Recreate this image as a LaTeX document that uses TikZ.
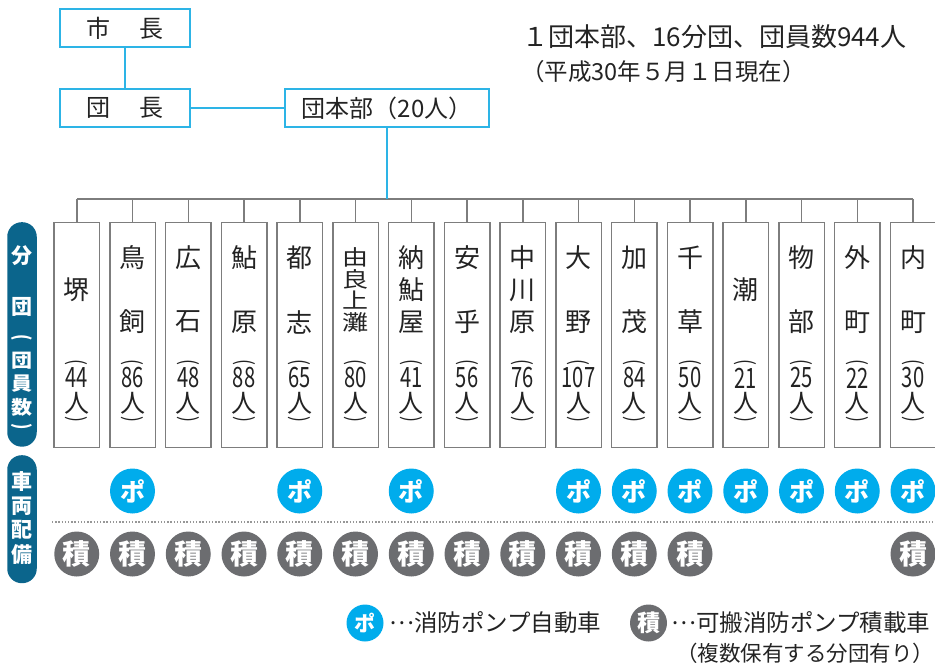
\documentclass[tikz,border=0pt]{standalone}
\usepackage{fontspec}
\setmainfont{Noto Sans CJK JP}
\usepackage{graphicx}
\definecolor{cyanline}{RGB}{45,180,230}
\definecolor{grayline}{RGB}{125,125,125}
\definecolor{pblue}{RGB}{0,172,236}
\definecolor{sgray}{RGB}{108,109,112}
\definecolor{pilld}{RGB}{11,101,140}
\definecolor{txt}{RGB}{35,35,35}
\newcommand\myfs[1]{\fontsize{#1}{#1}\selectfont}
\newcommand\midell{\raisebox{0.33em}{…}}
\begin{document}
\begin{tikzpicture}[x=1pt,y=-1pt,
  topbox/.style={draw=cyanline, line width=2pt, minimum width=130pt, minimum height=38pt, inner sep=0pt, font=\myfs{24}, text=txt},
  branch/.style={draw=grayline, line width=1.5pt, minimum width=45.5pt, minimum height=224.5pt, inner sep=0pt, anchor=north},
  ch/.style={inner sep=0pt, font=\myfs{26}, text=txt},
  num/.style={inner sep=0pt, font=\myfs{28}, text=txt},
  parn/.style={inner sep=0pt, rotate=-90, font=\myfs{22}, text=txt},
  cyanconn/.style={draw=cyanline, line width=2pt},
  busline/.style={draw=grayline, line width=1.5pt},
  pcirc/.style={circle, fill=pblue, minimum size=45pt, inner sep=0pt, text=white, font=\bfseries\myfs{25}},
  scirc/.style={circle, fill=sgray, minimum size=45pt, inner sep=0pt, text=white, font=\bfseries\myfs{28}},
  pill/.style={fill=pilld, rounded corners=14.5pt, minimum width=29.5pt, inner sep=0pt, anchor=north},
  pilltxt/.style={inner sep=0pt, text=white, font=\bfseries\myfs{21}},
  lgd/.style={inner sep=0pt, font=\myfs{23.5}, text=txt, anchor=west}
]
\useasboundingbox (0,0) rectangle (935,663);

% top boxes
\node[topbox] (mayor) at (125,28) {市\hspace{29pt}長};
\node[topbox] (chief) at (125,108) {団\hspace{29pt}長};
\node[topbox, minimum width=204pt] (hq) at (387,108) {団本部（20人）};
\draw[cyanconn] (mayor) -- (chief);
\draw[cyanconn] (chief) -- (hq);

% summary
\node[inner sep=0pt, anchor=west, font=\myfs{26}, text=txt] (sum1) at (522,37) {１団本部、16分団、団員数944人};
\node[inner sep=0pt, anchor=west, font=\myfs{23.5}, text=txt] (sum2) at (521,72) {（平成30年５月１日現在）};

% bus
\coordinate (busL) at (76.75,199);
\coordinate (busR) at (913,199);
\draw[busline] (busL) -- (busR);
\draw[cyanconn] (hq.south) -- (hq.south |- busL);

% branch boxes
\foreach \i/\n in {0/44,1/86,2/48,3/88,4/65,5/80,6/41,7/56,8/76,9/107,10/84,11/50,12/21,13/25,14/22,15/30} {
  \pgfmathsetmacro\cx{76.75+55.75*\i}
  \node[branch] (b\i) at (\cx,222) {};
  \draw[busline] (b\i.north) -- (b\i.north |- busL);
  \node[parn] (po\i) at (\cx,362) {\scalebox{0.8}[1]{(}};
  \node[num] (n\i) at (\cx,378) {\scalebox{0.72}[1]{\n}};
  \node[ch, font=\myfs{25}] (h\i) at (\cx,403) {人};
  \node[parn] (pc\i) at (\cx,419) {\scalebox{0.8}[1]{)}};
}
% names
\foreach \i/\a/\b in {1/鳥/飼,2/広/石,3/鮎/原,4/都/志,7/安/乎,9/大/野,10/加/茂,11/千/草,13/物/部,14/外/町,15/内/町} {
  \pgfmathsetmacro\cx{76.75+55.75*\i}
  \node[ch] (na\i) at (\cx,258) {\a};
  \node[ch] (nb\i) at (\cx,322) {\b};
}
\foreach \i/\a/\b/\c in {6/納/鮎/屋,8/中/川/原} {
  \pgfmathsetmacro\cx{76.75+55.75*\i}
  \node[ch] (na\i) at (\cx,258) {\a};
  \node[ch] (nb\i) at (\cx,290) {\b};
  \node[ch] (nc\i) at (\cx,322) {\c};
}
\node[ch] (na0) at (76.75,290) {堺};
\node[ch] (na12) at (745.75,290) {潮};
\node[ch, yscale=0.82] (na5) at (355.5,257.5) {由};
\node[ch, yscale=0.82] (nb5) at (355.5,279) {良};
\node[ch, yscale=0.82] (nc5) at (355.5,300.5) {上};
\node[ch, yscale=0.82] (nd5) at (355.5,322) {灘};

% left pills
\node[pill, minimum height=224.5pt] (pill1) at (22,222) {};
\node[pilltxt] (p1a) at (22,256) {分};
\node[pilltxt] (p1b) at (22,307) {団};
\node[pilltxt, rotate=-90, font=\bfseries\myfs{20}] (p1c) at (22,338) {\scalebox{0.8}[1]{(}};
\node[pilltxt, yscale=0.9] (p1d) at (22,361) {団};
\node[pilltxt, yscale=0.9] (p1e) at (22,384) {員};
\node[pilltxt, yscale=0.9] (p1f) at (22,407) {数};
\node[pilltxt, rotate=-90, font=\bfseries\myfs{20}] (p1g) at (22,427) {\scalebox{0.8}[1]{)}};
\node[pill, minimum height=128pt] (pill2) at (22,455) {};
\node[pilltxt] (p2a) at (22,482) {車};
\node[pilltxt] (p2b) at (22,506) {両};
\node[pilltxt] (p2c) at (22,530) {配};
\node[pilltxt] (p2d) at (22,555) {備};

% pump circles
\foreach \i in {1,4,6,9,10,11,12,13,14,15} {
  \pgfmathsetmacro\cx{76.75+55.75*\i}
  \node[pcirc] (pp\i) at (\cx,491) {ポ};
}
% dotted separator
\coordinate (dotL) at (52,522);
\coordinate (dotR) at (935,522);
\draw[draw=grayline!80, line width=1.2pt, dash pattern=on 1.4pt off 1.8pt] (dotL) -- (dotR);
% portable circles
\foreach \i in {0,1,2,3,4,5,6,7,8,9,10,11,15} {
  \pgfmathsetmacro\cx{76.75+55.75*\i}
  \node[scirc] (ss\i) at (\cx,554) {積};
}

% legend
\node[pcirc, minimum size=37pt, font=\bfseries\myfs{21}] (lp) at (365,623) {ポ};
\node[lgd] (lpt) at (389,623) {\midell 消防ポンプ自動車};
\node[scirc, minimum size=37pt, font=\bfseries\myfs{23}] (ls) at (648.5,623) {積};
\node[lgd] (lst) at (671,623) {\midell 可搬消防ポンプ積載車};
\node[inner sep=0pt, anchor=east, font=\myfs{21.5}, text=txt] (lst2) at (934.5,653) {（複数保有する分団有り）};
\end{tikzpicture}
\end{document}
